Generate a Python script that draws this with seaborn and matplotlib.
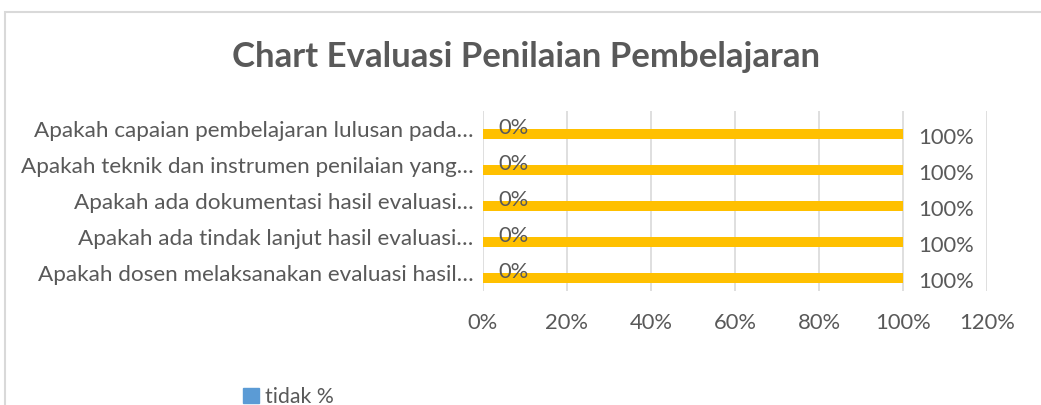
import matplotlib
matplotlib.use("Agg")
import matplotlib.pyplot as plt
import seaborn as sns
import pandas as pd
from matplotlib.patches import Rectangle

categories = [
    "Apakah capaian pembelajaran lulusan pada…",
    "Apakah teknik dan instrumen penilaian yang…",
    "Apakah ada dokumentasi hasil evaluasi…",
    "Apakah ada tindak lanjut hasil evaluasi…",
    "Apakah dosen melaksanakan evaluasi hasil…",
]
tidak = [0, 0, 0, 0, 0]
ya = [100, 100, 100, 100, 100]
series_names = ["tidak %", "ya %"]
x_ticks = [0, 20, 40, 60, 80, 100, 120]

sns.set_theme(style="white")
plt.rcParams["font.family"] = ["Lato", "DejaVu Sans"]

TXT = "#595959"
GRID = "#D9D9D9"
BLUE = "#5B9BD5"
YELLOW = "#FFC000"
FS = 15.8

df = pd.DataFrame({
    "cat": categories * 2,
    "val": tidak + ya,
    "series": [series_names[0]] * len(categories) + [series_names[1]] * len(categories),
})

fig = plt.figure(figsize=(10.41, 4.05), dpi=100)
ax = fig.add_axes([483 / 1041, 1 - 291 / 405, 504 / 1041, 180 / 405])

sns.barplot(data=df, y="cat", x="val", hue="series", hue_order=series_names,
            order=categories, palette=[BLUE, YELLOW], orient="h",
            width=0.53, ax=ax, legend=False, saturation=1, edgecolor="none")

ax.set_xlim(0, 120)
ax.set_ylim(4.5, -0.5)
ax.set_xticks(x_ticks)
ax.set_xticklabels([f"{t}%" for t in x_ticks], color=TXT, fontsize=FS)
ax.tick_params(axis="x", length=0, pad=16)
ax.tick_params(axis="y", length=0, pad=7, labelsize=16.2, labelcolor=TXT)
ax.set_xlabel("")
ax.set_ylabel("")
ax.grid(axis="x", color=GRID, linewidth=1.2)
ax.grid(axis="y", visible=False)
for s in ax.spines.values():
    s.set_visible(False)
ax.set_axisbelow(True)

for cont, vals in zip(ax.containers, [tidak, ya]):
    anns = ax.bar_label(cont, labels=[f"{v:.0f}%" for v in vals], padding=11,
                        color=TXT, fontsize=FS)
    for a in anns:
        a.xyann = (11, -3)

fig.text(526 / 1041, 1 - 57 / 405, "Chart Evaluasi Penilaian Pembelajaran",
         ha="center", va="center", fontsize=25, fontweight="bold", color=TXT)

fig.patches.append(Rectangle((5 / 1041, -0.1), 1.2, 1.1 - 12 / 405,
                             transform=fig.transFigure, fill=False,
                             edgecolor=GRID, linewidth=1.5))

leg = fig.legend([Rectangle((0, 0), 1, 1, color=BLUE)], [series_names[0]],
                 loc="center left", bbox_to_anchor=(224 / 1041, 1 - 397 / 405),
                 frameon=False, fontsize=15.3, handlelength=0.75, handleheight=0.75,
                 handletextpad=0.3)
for t in leg.get_texts():
    t.set_color(TXT)

fig.savefig("out.png", dpi=100)
